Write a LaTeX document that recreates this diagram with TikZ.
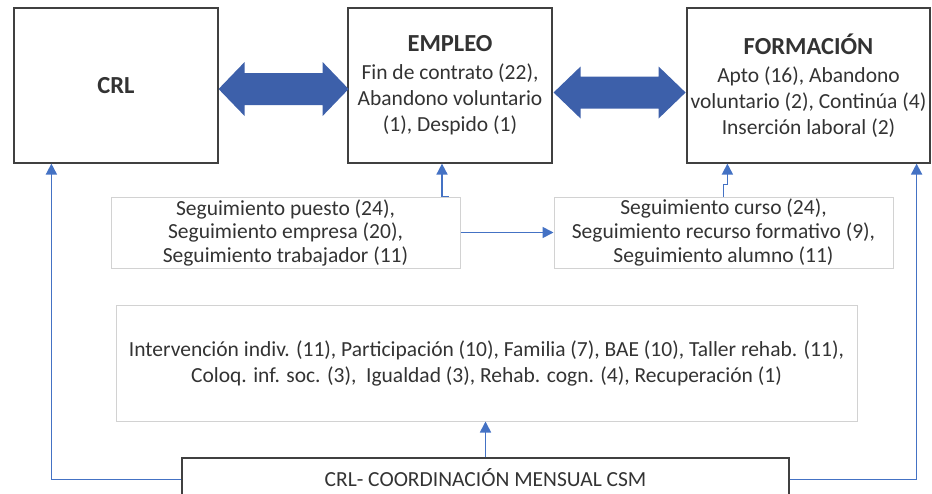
\documentclass[tikz,border=0pt]{standalone}
\usepackage{fontspec}
\setmainfont{Carlito}
\usetikzlibrary{arrows.meta}
\definecolor{boxline}{RGB}{64,64,64}
\definecolor{lightline}{RGB}{210,210,210}
\definecolor{connblue}{RGB}{68,114,196}
\definecolor{fatblue}{RGB}{61,96,170}
\newcommand{\titlefont}{\bfseries\fontsize{24.5}{28}\selectfont}

\begin{document}
\begin{tikzpicture}[x=1pt,y=1pt,yscale=-1,xscale=1,
  mainbox/.style={draw=boxline,line width=1.2pt,minimum width=#1,minimum height=155pt,inner sep=0pt,align=center,text=black!80,font=\fontsize{21.5}{26}\selectfont},
  greybox/.style={draw=lightline,line width=1pt,inner sep=0pt,align=center,text=black!80},
  coordbox/.style={draw=boxline,line width=1.2pt,inner sep=0pt,text=black!80,font=\fontsize{21.5}{26}\selectfont},
  conn/.style={draw=connblue,line width=1.7pt,-{Triangle[length=11pt,width=11pt]}},
  fatarrow/.style={fill=fatblue}]
\useasboundingbox (0,0) rectangle (932,493);

%Shape: Rectangle
\node[mainbox=204pt] (crl) at (116,85.5) {\titlefont CRL};
%Shape: Rectangle
\node[mainbox=204pt] (empleo) at (450,85.5) {{\titlefont EMPLEO}\\[2pt] Fin de contrato (22),\\ Abandono voluntario\\ (1), Despido (1)};
%Shape: Rectangle
\node[mainbox=243pt] (formacion) at (808.5,85.5) {{\titlefont FORMACIÓN}\\[2pt] Apto (16), Abandono\\ voluntario (2), Continúa (4)\\ Inserción laboral (2)};

%Shape: Rectangle
\node[greybox,minimum width=349pt,minimum height=71pt,font=\fontsize{21.5}{23.5}\selectfont] (puesto) at (285.5,232.5) {Seguimiento puesto (24),\\ Seguimiento empresa (20),\\ Seguimiento trabajador (11)};
%Shape: Rectangle
\node[greybox,minimum width=339pt,minimum height=71pt,font=\fontsize{21.5}{24}\selectfont] (curso) at (723.5,232.5) {Seguimiento curso (24),\\ Seguimiento recurso formativo (9),\\ Seguimiento alumno (11)};
%Shape: Rectangle
\node[greybox,minimum width=741pt,minimum height=116pt,font=\fontsize{21.5}{26}\selectfont] (actividades) at (486.5,363) {Intervención indiv. (11), Participación (10), Familia (7), BAE (10), Taller rehab. (11),\\ Coloq. inf. soc. (3),\ \ Igualdad (3), Rehab. cogn. (4), Recuperación (1)};
%Shape: Rectangle
\node[coordbox,minimum width=607pt,minimum height=39pt] (coord) at (485.5,477.5) {CRL- COORDINACIÓN MENSUAL CSM};

%Double Arrows
\fill[fatarrow] (crl.east) ++(0,3.5) -- ++(26,-27) -- ++(0,11) -- ++(78,0) -- ++(0,-11) -- ++(26,27) -- ++(-26,27) -- ++(0,-11) -- ++(-78,0) -- ++(0,11) -- cycle;
\fill[fatarrow] (empleo.east) ++(1,7) -- ++(27,-26) -- ++(0,10) -- ++(78,0) -- ++(0,-10) -- ++(27,26) -- ++(-27,26) -- ++(0,-10) -- ++(-78,0) -- ++(0,10) -- cycle;

%Straight Lines
\draw[conn] ([xshift=-12pt]puesto.north east) -| ([xshift=-8pt]empleo.south);
\draw[conn] (puesto.east) -- (curso.west);
\draw[conn] (curso.north) -- ++(0,-12) -| ([xshift=41pt]formacion.south west);
\draw[conn] (coord.north) -- (coord.north |- actividades.south);
\draw[conn] ([yshift=2pt]coord.west) -| ([xshift=38pt]crl.south west);
\draw[conn] ([yshift=2pt]coord.east) -| ([xshift=-14pt]formacion.south east);

\end{tikzpicture}
\end{document}
